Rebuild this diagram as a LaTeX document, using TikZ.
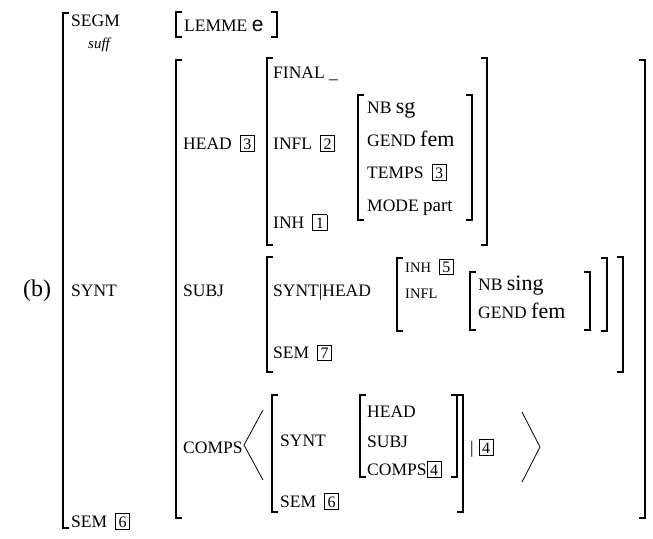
\documentclass[tikz,border=0pt]{standalone}
\usepackage{fontspec}
\setmainfont{Liberation Serif}
\newfontfamily\sansE{Liberation Sans}
\newcommand\bxn[1]{{\setlength\fboxsep{2.2pt}\setlength\fboxrule{0.8pt}\fbox{\fontsize{16}{16}\selectfont\makebox[9pt]{#1}}}}
\newcommand\gp{\hspace{8pt}}
\newcommand\V[1]{{\fontsize{22}{22}\selectfont #1}}
\newcommand\LB[3]{\draw[brk] (#1+6,#2) -- (#1,#2) -- (#1,#3) -- (#1+6,#3);}
\newcommand\RB[3]{\draw[brk] (#1-6,#2) -- (#1,#2) -- (#1,#3) -- (#1-6,#3);}
\begin{document}
\begin{tikzpicture}[x=1pt,y=-1pt,
  lab/.style={font=\fontsize{17.5}{17.5}\selectfont, inner sep=0pt, anchor=base west},
  sml/.style={font=\fontsize{14.5}{14.5}\selectfont, inner sep=0pt, anchor=base west},
  brk/.style={line width=1.1pt},
  ang/.style={line width=0.8pt}]
\useasboundingbox (0,0) rectangle (653,538);
% outer
\node[lab] (b) at (23,296) {{\fontsize{24}{24}\selectfont (b)}};
\LB{63}{13}{528}
\node[lab] (segm) at (71,26) {SEGM};
\node[lab, font=\fontsize{15}{15}\selectfont\itshape] (suff) at (88,48) {suff};
\node[lab] (synt) at (71,296) {SYNT};
\node[lab] (sem) at (71,527) {SEM\gp\bxn{6}};
% LEMME
\LB{176}{12}{37}\RB{277}{12}{37}
\node[lab] (lemme) at (184,31) {LEMME {\sansE\fontsize{21}{21}\selectfont e}};
% big SYNT value
\LB{176}{60}{518}\RB{645}{60}{518}
\node[lab] (head) at (183,149) {HEAD\gp\bxn{3}};
\LB{267}{58}{245}\RB{487}{58}{245}
\node[lab] (final) at (273,78) {FINAL \_};
\node[lab] (infl) at (273,149) {INFL\gp\bxn{2}};
\node[lab] (inh) at (273,228) {INH\gp\bxn{1}};
\LB{358}{95}{220}\RB{472}{95}{220}
\node[lab] (nb) at (367,113) {NB \V{sg}};
\node[lab] (gend) at (367,146) {GEND \V{fem}};
\node[lab] (temps) at (367,178) {TEMPS\gp\bxn{3}};
\node[lab] (mode) at (367,211) {MODE {\fontsize{19}{19}\selectfont part}};
% SUBJ
\node[lab] (subj) at (183,296) {SUBJ};
\LB{267}{257}{372}\RB{623}{257}{372}
\node[lab] (sh) at (273,296) {SYNT|HEAD};
\node[lab] (sem7) at (273,358) {SEM\gp\bxn{7}};
\LB{397}{258}{331}\RB{607}{258}{331}
\node[sml] (inh5) at (405,272) {INH\gp\bxn{5}};
\node[sml] (infl5) at (405,298) {INFL};
\LB{470}{272}{330}\RB{590}{272}{330}
\node[lab] (nbs) at (478,290) {NB \V{sing}};
\node[lab] (gends) at (478,318) {GEND \V{fem}};
% COMPS
\node[lab] (comps) at (183,453) {COMPS};
\draw[ang] (263,410) -- (244,445) -- (263,480);
\LB{272}{395}{512}\RB{463}{395}{512}
\node[lab] (csynt) at (280,446) {SYNT};
\node[lab] (csem) at (280,507) {SEM\gp\bxn{6}};
\LB{360}{395}{477}\RB{457}{395}{477}
\node[lab] (chead) at (367,417) {HEAD};
\node[lab] (csubj) at (367,447) {SUBJ};
\node[lab] (ccomps) at (367,475) {COMPS\bxn{4}};
\node[lab] (tail) at (470,453) {|\hspace{5pt}\bxn{4}};
\draw[ang] (522,412) -- (540,447) -- (522,482);
\end{tikzpicture}
\end{document}
